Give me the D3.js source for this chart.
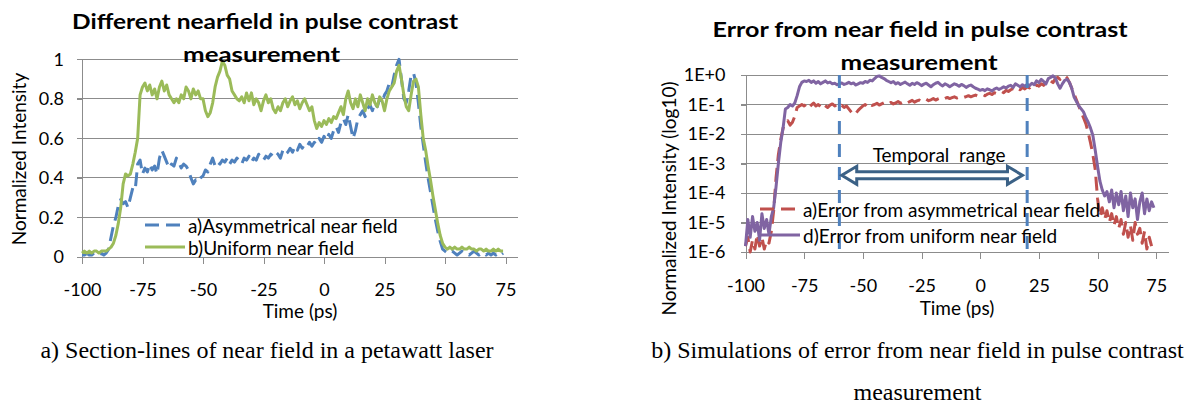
<!DOCTYPE html>
<html lang="en">
<head>
<meta charset="UTF-8">
<script src="https://d3js.org/d3.v7.min.js"></script>
<style>
    body { margin: 0; background: #fff; }
    svg text { font-family: Lato, "Open Sans", sans-serif; fill: #000; }
    .grid line { stroke: #8c8c8c; stroke-width: 1; shape-rendering: crispEdges; }
    .axis path, .axis line { stroke: #8c8c8c; shape-rendering: crispEdges; }
    .axis text { font-size: 18px; fill: #000; }
    .title { font-weight: bold; font-size: 21px; }
    .label { font-size: 19px; }
    .caption { font-family: "Liberation Serif", "Times New Roman", serif; font-size: 24px; }
    .series { fill: none; stroke-width: 3; stroke-linejoin: round; }
</style>
</head>
<body>
<svg id="canvas" width="1188" height="405"></svg>
<script>
// samples are read every 1 ps starting at -100 ps
const timeStart = -100;
const timeStep = 1;

const xDomain = [-100, 80];
const xTicks = [-100, -75, -50, -25, 0, 25, 50, 75];
const yTicksLeft = [0, 0.2, 0.4, 0.6, 0.8, 1];
const yExpRight = [0, -1, -2, -3, -4, -5, -6];
const yTickLabelsRight = ["1E+0", "1E-1", "1E-2", "1E-3", "1E-4", "1E-5", "1E-6"];

// left chart: normalized intensity
const asymNear = [
    0.01,0.01,0.02,0.01,0.01,0.02,0.01,0.01,0.02,0.01,
    0.02,0.04,0.10,0.16,0.20,0.26,0.29,0.27,0.28,0.25,
    0.30,0.35,0.34,0.47,0.49,0.42,0.45,0.43,0.47,0.44,
    0.46,0.42,0.50,0.54,0.51,0.48,0.45,0.47,0.46,0.50,
    0.48,0.45,0.47,0.46,0.44,0.40,0.37,0.39,0.38,0.40,
    0.41,0.44,0.43,0.47,0.50,0.46,0.48,0.47,0.49,0.48,
    0.50,0.47,0.49,0.48,0.50,0.49,0.47,0.50,0.49,0.51,
    0.48,0.50,0.49,0.52,0.50,0.49,0.51,0.50,0.52,0.51,
    0.53,0.52,0.50,0.54,0.52,0.53,0.55,0.53,0.56,0.54,
    0.57,0.55,0.57,0.56,0.58,0.56,0.58,0.57,0.60,0.58,
    0.61,0.59,0.62,0.60,0.64,0.66,0.63,0.68,0.70,0.67,
    0.72,0.66,0.60,0.64,0.70,0.72,0.74,0.71,0.75,0.77,
    0.74,0.78,0.76,0.80,0.78,0.82,0.84,0.88,0.86,0.92,
    0.97,1.00,0.90,0.80,0.78,0.84,0.92,0.93,0.88,0.78,
    0.66,0.57,0.48,0.40,0.33,0.26,0.19,0.13,0.08,0.04,
    0.03,0.02,0.02,0.03,0.02,0.01,0.02,0.03,0.02,0.02,
    0.01,0.02,0.03,0.02,0.01,0.02,0.02,0.01,0.02,0.01,
    0.02,0.01,0.02,0.01,0.02
];
const uniformNear = [
    0.02,0.03,0.02,0.03,0.02,0.03,0.03,0.02,0.03,0.03,
    0.03,0.04,0.05,0.07,0.11,0.17,0.25,0.37,0.42,0.41,
    0.42,0.47,0.53,0.60,0.82,0.86,0.88,0.84,0.87,0.82,
    0.85,0.80,0.86,0.89,0.84,0.87,0.82,0.80,0.78,0.80,
    0.78,0.82,0.80,0.86,0.84,0.80,0.85,0.82,0.84,0.80,
    0.80,0.74,0.71,0.73,0.78,0.86,0.91,0.94,0.99,0.97,
    0.92,0.90,0.84,0.82,0.80,0.79,0.81,0.78,0.83,0.79,
    0.83,0.77,0.80,0.78,0.74,0.79,0.82,0.78,0.80,0.75,
    0.73,0.76,0.74,0.78,0.80,0.76,0.79,0.81,0.77,0.79,
    0.75,0.78,0.80,0.77,0.74,0.76,0.69,0.65,0.68,0.66,
    0.69,0.67,0.70,0.68,0.71,0.70,0.73,0.76,0.72,0.80,
    0.84,0.78,0.75,0.80,0.76,0.82,0.78,0.74,0.80,0.77,
    0.82,0.78,0.76,0.81,0.79,0.74,0.80,0.84,0.86,0.88,
    0.94,0.97,0.90,0.82,0.76,0.74,0.82,0.89,0.90,0.86,
    0.72,0.60,0.54,0.46,0.39,0.31,0.24,0.17,0.11,0.07,
    0.05,0.04,0.05,0.04,0.05,0.04,0.04,0.05,0.04,0.04,
    0.05,0.04,0.04,0.03,0.04,0.04,0.03,0.04,0.03,0.03,
    0.04,0.03,0.04,0.03,0.03
];

// right chart: log10 of normalized intensity
const errAsym = [
    -5.8,-5.5,-6.0,-5.6,-5.9,-5.4,-5.8,-5.5,-5.9,-5.6,
    -5.7,-5.3,-4.6,-3.5,-2.7,-2.2,-1.8,-1.65,-1.55,-1.70,
    -1.60,-1.40,-1.10,-1.05,-1.00,-1.05,-0.98,-1.10,-1.02,-0.95,
    -1.05,-1.00,-1.08,-0.98,-1.04,-1.10,-1.02,-0.98,-1.05,-1.00,
    -1.08,-1.03,-1.10,-1.05,-1.15,-1.25,-1.35,-1.30,-1.20,-1.12,
    -1.05,-1.00,-1.08,-0.98,-1.03,-1.00,-0.96,-1.02,-0.98,-0.94,
    -1.00,-0.97,-0.93,-0.98,-0.95,-0.90,-0.96,-0.92,-0.88,-0.94,
    -0.90,-0.86,-0.92,-0.88,-0.85,-0.90,-0.86,-0.82,-0.87,-0.84,
    -0.80,-0.85,-0.81,-0.78,-0.83,-0.79,-0.76,-0.80,-0.77,-0.74,
    -0.78,-0.75,-0.72,-0.76,-0.73,-0.70,-0.74,-0.71,-0.68,-0.72,
    -0.69,-0.66,-0.70,-0.65,-0.62,-0.66,-0.60,-0.63,-0.58,-0.55,
    -0.60,-0.52,-0.56,-0.50,-0.46,-0.52,-0.45,-0.50,-0.42,-0.47,
    -0.40,-0.44,-0.36,-0.42,-0.34,-0.38,-0.30,-0.35,-0.25,-0.30,
    -0.20,-0.26,-0.12,-0.08,-0.15,-0.05,-0.03,-0.10,-0.25,-0.45,
    -0.65,-0.85,-1.05,-1.25,-1.45,-1.65,-1.95,-2.30,-2.70,-3.20,
    -4.20,-4.80,-4.50,-4.90,-4.60,-5.00,-4.70,-5.10,-4.80,-5.20,
    -4.90,-5.40,-5.00,-5.50,-5.10,-5.60,-5.00,-5.40,-5.20,-5.70,
    -5.30,-5.90,-5.50,-5.80
];
const errUniform = [
    -5.8,-4.9,-5.5,-4.8,-5.3,-5.0,-5.6,-4.7,-5.2,-4.9,
    -5.4,-4.8,-4.5,-3.8,-3.0,-2.3,-1.8,-1.15,-1.10,-1.00,
    -1.05,-0.95,-0.70,-0.40,-0.25,-0.20,-0.22,-0.18,-0.25,-0.20,
    -0.28,-0.22,-0.30,-0.25,-0.20,-0.27,-0.24,-0.30,-0.28,-0.33,
    -0.30,-0.27,-0.32,-0.29,-0.25,-0.30,-0.27,-0.34,-0.30,-0.26,
    -0.28,-0.22,-0.25,-0.18,-0.20,-0.12,-0.05,-0.03,-0.08,-0.12,
    -0.18,-0.22,-0.26,-0.22,-0.30,-0.26,-0.32,-0.28,-0.24,-0.30,
    -0.35,-0.28,-0.32,-0.26,-0.30,-0.36,-0.31,-0.28,-0.34,-0.40,
    -0.33,-0.28,-0.25,-0.32,-0.37,-0.30,-0.34,-0.40,-0.35,-0.30,
    -0.33,-0.38,-0.32,-0.36,-0.42,-0.37,-0.34,-0.40,-0.45,-0.48,
    -0.52,-0.49,-0.53,-0.47,-0.50,-0.54,-0.48,-0.44,-0.49,-0.45,
    -0.40,-0.44,-0.38,-0.35,-0.42,-0.30,-0.35,-0.40,-0.33,-0.38,
    -0.32,-0.36,-0.28,-0.33,-0.20,-0.26,-0.15,-0.22,-0.30,-0.12,
    -0.08,-0.03,-0.10,-0.30,-0.45,-0.30,-0.18,-0.15,-0.25,-0.45,
    -0.75,-0.90,-1.05,-1.15,-1.25,-1.45,-1.60,-1.80,-2.05,-2.55,
    -3.10,-3.60,-3.90,-4.10,-3.95,-4.30,-3.90,-4.50,-4.00,-4.40,
    -3.95,-4.60,-4.10,-4.80,-4.00,-4.50,-4.20,-4.90,-4.30,-4.00,
    -4.70,-4.20,-4.60,-4.30,-4.50
];

// temporal range annotation (ps) and arrow height (log10)
const temporalRange = [-60, 20];
const arrowSpan = [-59, 18];
const arrowLevel = -3.4;
const rangeLabelPos = [-17.5, -2.68];

const blue = "#4f81bd", green = "#9bbb59", red = "#c0504d", purple = "#8064a2";

let svg = d3.select("#canvas");

// ---------- left chart ----------
const xL = d3.scaleLinear().domain(xDomain).range([82, 517.6]);
const yL = d3.scaleLinear().domain([0, 1]).range([257, 59.3]);

svg.append("g").attr("class", "grid")
    .selectAll("line").data(yTicksLeft).join("line")
    .attr("x1", xL(xDomain[0]) - 5).attr("x2", xL(xDomain[1]))
    .attr("y1", d => yL(d)).attr("y2", d => yL(d));

svg.append("g").attr("class", "axis")
    .attr("transform", `translate(0,${yL(0)})`)
    .call(d3.axisBottom(xL).tickValues(xTicks).tickSize(7).tickSizeOuter(0).tickPadding(19)
        .tickFormat(d => String(d)));

svg.append("g").attr("class", "axis")
    .attr("transform", `translate(${xL(xDomain[0])},0)`)
    .call(d3.axisLeft(yL).tickValues(yTicksLeft).tickSize(5).tickSizeOuter(0).tickPadding(13)
        .tickFormat(d => String(d)));

const lineL = d3.line()
    .x((d, i) => xL(timeStart + i * timeStep))
    .y(d => yL(d));

svg.append("path").attr("class", "series")
    .attr("d", lineL(asymNear))
    .attr("stroke", blue).attr("stroke-dasharray", "14,7");
svg.append("path").attr("class", "series")
    .attr("d", lineL(uniformNear))
    .attr("stroke", green).attr("stroke-width", 3.5);

// ---------- right chart ----------
const xR = d3.scaleLinear().domain(xDomain).range([745.5, 1168]);
const yR = d3.scaleLog().domain([1e-6, 1]).range([252, 75]);
const yRightVals = yExpRight.map(e => Math.pow(10, e));

svg.append("g").attr("class", "grid")
    .selectAll("line").data(yRightVals).join("line")
    .attr("x1", xR(xDomain[0]) - 5).attr("x2", xR(xDomain[1]))
    .attr("y1", d => yR(d)).attr("y2", d => yR(d));

svg.append("g").attr("class", "axis")
    .attr("transform", `translate(0,${yR(1e-6)})`)
    .call(d3.axisBottom(xR).tickValues(xTicks).tickSize(7).tickSizeOuter(0).tickPadding(20)
        .tickFormat(d => String(d)));

svg.append("g").attr("class", "axis")
    .attr("transform", `translate(${xR(xDomain[0])},0)`)
    .call(d3.axisLeft(yR).tickValues(yRightVals).tickSize(5).tickSizeOuter(0).tickPadding(15)
        .tickFormat((d, i) => yTickLabelsRight[i]));

const lineR = d3.line()
    .x((d, i) => xR(timeStart + i * timeStep))
    .y(d => yR(Math.pow(10, d)));

svg.append("path").attr("class", "series")
    .attr("d", lineR(errAsym))
    .attr("stroke", red).attr("stroke-dasharray", "14,7");
svg.append("path").attr("class", "series")
    .attr("d", lineR(errUniform))
    .attr("stroke", purple);

// temporal range marks
svg.append("g").selectAll("line").data(temporalRange).join("line")
    .attr("x1", d => xR(d)).attr("x2", d => xR(d))
    .attr("y1", yR(1)).attr("y2", yR(1e-6))
    .attr("stroke", blue).attr("stroke-width", 3).attr("stroke-dasharray", "13,10");

const ax0 = xR(arrowSpan[0]), ax1 = xR(arrowSpan[1]), ay = yR(Math.pow(10, arrowLevel));
const shaft = 3.5, head = 9, headLen = 15;
svg.append("path")
    .attr("d", `M${ax0},${ay} L${ax0 + headLen},${ay - head} L${ax0 + headLen},${ay - shaft}
        L${ax1 - headLen},${ay - shaft} L${ax1 - headLen},${ay - head} L${ax1},${ay}
        L${ax1 - headLen},${ay + head} L${ax1 - headLen},${ay + shaft}
        L${ax0 + headLen},${ay + shaft} L${ax0 + headLen},${ay + head} Z`)
    .attr("fill", "#fff").attr("stroke", "#3b6186").attr("stroke-width", 3)
    .attr("stroke-linejoin", "miter");

svg.append("text").attr("class", "label")
    .attr("x", xR(rangeLabelPos[0])).attr("y", yR(Math.pow(10, rangeLabelPos[1])))
    .attr("text-anchor", "middle").attr("dominant-baseline", "central")
    .attr("xml:space", "preserve")
    .text("Temporal  range");

// ---------- titles, labels, legends ----------
function addText(txt, x, y, cls, opts = {}) {
    let t = svg.append("text").attr("class", cls)
        .attr("x", x).attr("y", y)
        .attr("text-anchor", opts.anchor || "middle")
        .attr("dominant-baseline", "central")
        .text(txt);
    if (opts.len) t.attr("textLength", opts.len).attr("lengthAdjust", "spacingAndGlyphs");
    if (opts.rotate) t.attr("transform", `rotate(-90,${x},${y})`);
    return t;
}

addText("Different nearfield in pulse contrast", 265, 20, "title", { len: 386 });
addText("measurement", 261.5, 53, "title", { len: 157 });
addText("Error from near field in pulse contrast", 920, 28, "title", { len: 415 });
addText("measurement", 919, 61, "title", { len: 157 });

addText("Time (ps)", 300, 310, "label");
addText("Time (ps)", 957, 307, "label");
addText("Normalized Intensity", 18, 159, "label", { rotate: true });
addText("Normalized Intensity (log10)", 668, 198.5, "label", { rotate: true });

// legends
const legendL = [
    { name: "a)Asymmetrical near field", color: blue, dash: "14,7", y: 225 },
    { name: "b)Uniform near field", color: green, dash: null, y: 247 }
];
const legendR = [
    { name: "a)Error from asymmetrical near field", color: red, dash: "14,7", y: 209 },
    { name: "d)Error from uniform near field", color: purple, dash: null, y: 235 }
];
function drawLegend(items, x0) {
    items.forEach(it => {
        svg.append("line")
            .attr("x1", x0).attr("x2", x0 + 40).attr("y1", it.y).attr("y2", it.y)
            .attr("stroke", it.color).attr("stroke-width", 3)
            .attr("stroke-dasharray", it.dash);
        addText(it.name, x0 + 43, it.y, "label", { anchor: "start" });
    });
}
drawLegend(legendL, 145);
drawLegend(legendR, 760);

// captions
addText("a) Section-lines of near field in a petawatt laser", 267, 350, "caption");
addText("b) Simulations of error from near field in pulse contrast", 917.5, 350, "caption");
addText("measurement", 917.5, 392, "caption");
</script>
</body>
</html>
